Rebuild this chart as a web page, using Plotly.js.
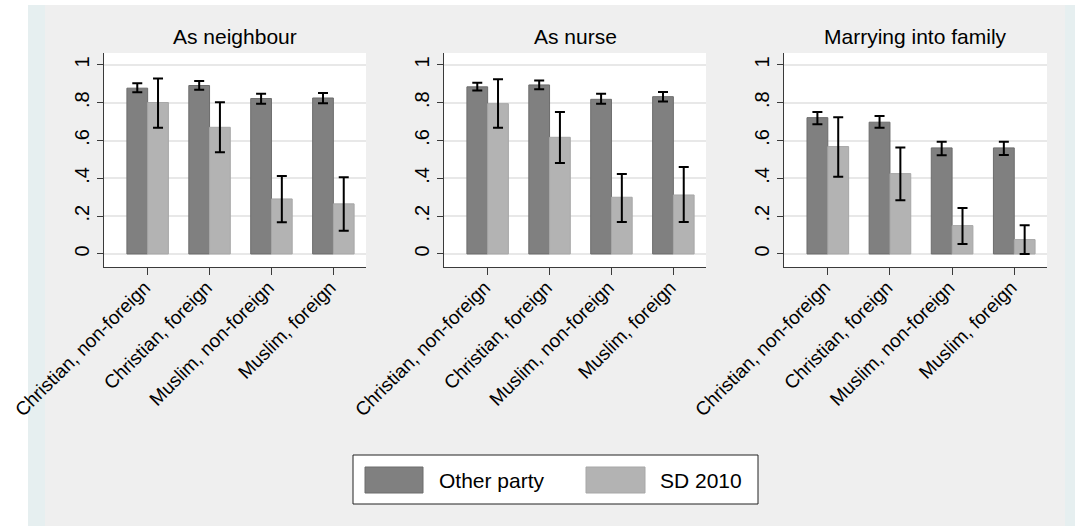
<!DOCTYPE html>
<html>
<head>
<meta charset="utf-8">
<script src="https://cdn.plot.ly/plotly-3.0.1.min.js"></script>
<style>html,body{margin:0;padding:0;background:#fff;}#chart{width:1075px;height:526px;}</style>
</head>
<body>
<div id="chart"></div>
<script>
// ---- data ----
var categories = ["Christian, non-foreign", "Christian, foreign", "Muslim, non-foreign", "Muslim, foreign"];
var panelTitles = ["As neighbour", "As nurse", "Marrying into family"];
var seriesNames = ["Other party", "SD 2010"];

var otherNeighbour   = [0.877, 0.891, 0.822, 0.825];
var otherNeighbourHi = [0.903, 0.915, 0.848, 0.852];
var otherNeighbourLo = [0.855, 0.868, 0.794, 0.797];
var sdNeighbour      = [0.801, 0.670, 0.291, 0.265];
var sdNeighbourHi    = [0.928, 0.802, 0.413, 0.406];
var sdNeighbourLo    = [0.668, 0.538, 0.168, 0.123];

var otherNurse   = [0.884, 0.894, 0.818, 0.832];
var otherNurseHi = [0.905, 0.917, 0.848, 0.857];
var otherNurseLo = [0.864, 0.871, 0.794, 0.806];
var sdNurse      = [0.795, 0.617, 0.300, 0.312];
var sdNurseHi    = [0.924, 0.751, 0.423, 0.460];
var sdNurseLo    = [0.667, 0.481, 0.169, 0.169];

var otherFamily   = [0.721, 0.697, 0.561, 0.561];
var otherFamilyHi = [0.751, 0.730, 0.593, 0.593];
var otherFamilyLo = [0.686, 0.667, 0.522, 0.524];
var sdFamily      = [0.568, 0.425, 0.150, 0.076];
var sdFamilyHi    = [0.723, 0.563, 0.243, 0.152];
var sdFamilyLo    = [0.409, 0.284, 0.053, 0.000];

var yTickVals = [0, 0.2, 0.4, 0.6, 0.8, 1];
var yTickText = ["0", ".2", ".4", ".6", ".8", "1"];

// ---- styling ----
var W = 1075, H = 526;
function px(x) { return x / W; }
function py(y) { return 1 - y / H; }
var FONT = "Liberation Sans, Arial, sans-serif";
var DARK = "#808080", DARK_LINE = "#6c6c6c";
var LIGHT = "#b3b3b3", LIGHT_LINE = "#a7a7a7";
var BG = "#efefef", STRIP = "#e6eff0";

var panels = [
  {other: otherNeighbour, oHi: otherNeighbourHi, oLo: otherNeighbourLo, sd: sdNeighbour, sHi: sdNeighbourHi, sLo: sdNeighbourLo, left: 104, right: 366},
  {other: otherNurse, oHi: otherNurseHi, oLo: otherNurseLo, sd: sdNurse, sHi: sdNurseHi, sLo: sdNurseLo, left: 444, right: 706},
  {other: otherFamily, oHi: otherFamilyHi, oLo: otherFamilyLo, sd: sdFamily, sHi: sdFamilyHi, sLo: sdFamilyLo, left: 784, right: 1047}
];

function up(v, hi) { return v.map(function (d, i) { return +(hi[i] - d).toFixed(4); }); }
function down(v, lo) { return v.map(function (d, i) { return +(d - lo[i]).toFixed(4); }); }

var traces = [];
var layout = {
  width: W, height: H,
  margin: {l: 0, r: 0, t: 0, b: 0},
  paper_bgcolor: "#ffffff",
  plot_bgcolor: "rgba(0,0,0,0)",
  barmode: "group",
  bargap: 0.33,
  bargroupgap: 0,
  showlegend: false,
  font: {family: FONT, color: "#000", size: 18},
  shapes: [
    {type: "rect", xref: "paper", yref: "paper", x0: px(28), x1: 1, y0: 0, y1: py(5), fillcolor: STRIP, line: {width: 0}, layer: "below"},
    {type: "rect", xref: "paper", yref: "paper", x0: px(45), x1: px(1065), y0: 0, y1: py(5), fillcolor: BG, line: {width: 0}, layer: "below"}
  ],
  annotations: []
};

var yTop = 53, yBot = 267;

panels.forEach(function (p, k) {
  var xa = k === 0 ? "x" : "x" + (k + 1);
  var ya = k === 0 ? "y" : "y" + (k + 1);
  var xKey = k === 0 ? "xaxis" : "xaxis" + (k + 1);
  var yKey = k === 0 ? "yaxis" : "yaxis" + (k + 1);

  traces.push({
    type: "bar", name: seriesNames[0], x: categories, y: p.other, xaxis: xa, yaxis: ya,
    marker: {color: DARK, line: {color: DARK_LINE, width: 1}},
    error_y: {type: "data", symmetric: false, array: up(p.other, p.oHi), arrayminus: down(p.other, p.oLo), color: "#000", thickness: 2, width: 5},
    hoverinfo: "skip"
  });
  traces.push({
    type: "bar", name: seriesNames[1], x: categories, y: p.sd, xaxis: xa, yaxis: ya,
    marker: {color: LIGHT, line: {color: LIGHT_LINE, width: 1}},
    error_y: {type: "data", symmetric: false, array: up(p.sd, p.sHi), arrayminus: down(p.sd, p.sLo), color: "#000", thickness: 2, width: 5},
    hoverinfo: "skip"
  });

  layout[xKey] = {
    domain: [px(p.left), px(p.right)],
    anchor: ya,
    type: "category",
    categoryorder: "array", categoryarray: categories,
    range: [-0.705, 3.527],
    showline: true, linecolor: "#3a3a3a", linewidth: 1,
    ticks: "outside", ticklen: 7, tickcolor: "#3a3a3a", tickwidth: 1,
    tickangle: -45,
    ticklabelstandoff: -6,
    ticklabelshift: -3,
    tickfont: {family: FONT, size: 19, color: "#000"},
    showgrid: false, zeroline: false, fixedrange: true
  };
  layout[yKey] = {
    domain: [py(yBot), py(yTop)],
    anchor: xa,
    range: [-0.069, 1.063],
    tickvals: yTickVals, ticktext: yTickText,
    tickangle: -90,
    showline: true, linecolor: "#3a3a3a", linewidth: 1,
    ticks: "outside", ticklen: 6, tickcolor: "#3a3a3a", tickwidth: 1,
    tickfont: {family: FONT, size: 20, color: "#000"},
    showgrid: true, gridcolor: "#e8e8e8", gridwidth: 2,
    zeroline: false, fixedrange: true
  };

  layout.shapes.push({type: "rect", xref: "paper", yref: "paper",
    x0: px(p.left), x1: px(p.right), y0: py(yBot), y1: py(yTop),
    fillcolor: "#ffffff", line: {width: 0}, layer: "below"});

  layout.annotations.push({
    xref: "paper", yref: "paper", x: px((p.left + p.right) / 2), y: py(37),
    xanchor: "center", yanchor: "middle", showarrow: false,
    text: panelTitles[k], font: {family: FONT, size: 21, color: "#000"}
  });
});

// legend box (drawn manually)
layout.shapes.push({type: "rect", xref: "paper", yref: "paper", x0: px(353), x1: px(758), y0: py(504), y1: py(455),
  fillcolor: "#ffffff", line: {color: "#222", width: 1}});
layout.shapes.push({type: "rect", xref: "paper", yref: "paper", x0: px(365), x1: px(423), y0: py(493), y1: py(467),
  fillcolor: DARK, line: {color: DARK_LINE, width: 1}});
layout.shapes.push({type: "rect", xref: "paper", yref: "paper", x0: px(586), x1: px(645), y0: py(493), y1: py(467),
  fillcolor: LIGHT, line: {color: LIGHT_LINE, width: 1}});
layout.annotations.push({xref: "paper", yref: "paper", x: px(437), y: py(480), xanchor: "left", yanchor: "middle",
  showarrow: false, text: seriesNames[0], font: {family: FONT, size: 21, color: "#000"}});
layout.annotations.push({xref: "paper", yref: "paper", x: px(658), y: py(480), xanchor: "left", yanchor: "middle",
  showarrow: false, text: seriesNames[1], font: {family: FONT, size: 21, color: "#000"}});

Plotly.newPlot("chart", traces, layout, {staticPlot: true, displayModeBar: false});
</script>
</body>
</html>
